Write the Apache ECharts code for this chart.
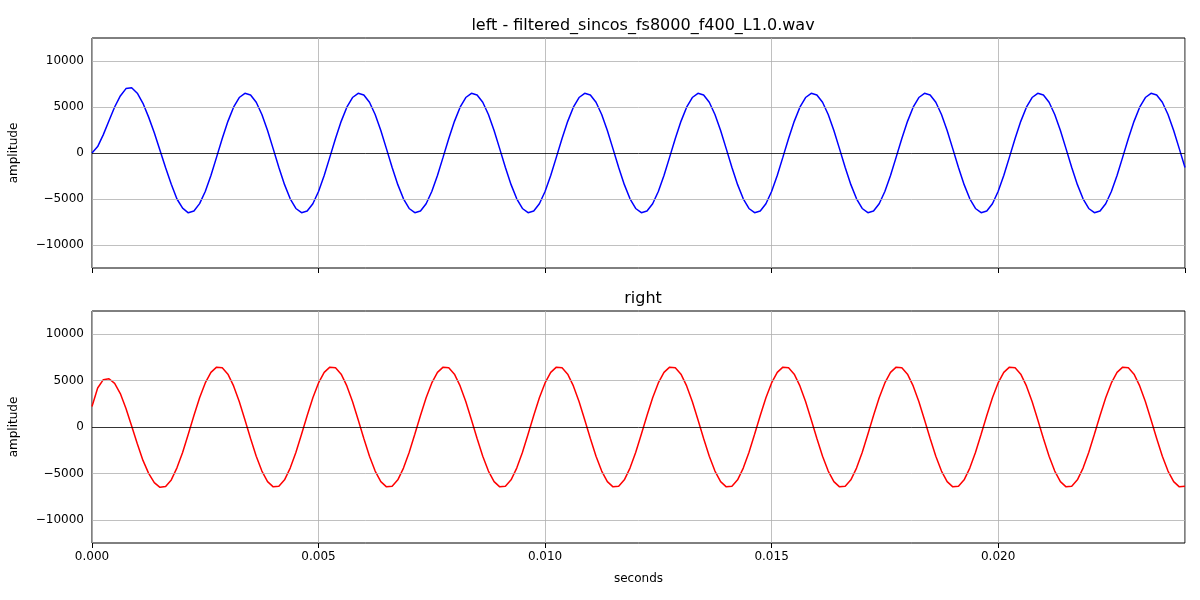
<!DOCTYPE html>
<html><head><meta charset="utf-8">
<script src="https://cdn.jsdelivr.net/npm/echarts@6/dist/echarts.min.js"></script>
<style>html,body{margin:0;background:#fff}#c{width:1200px;height:600px}</style>
</head><body><div id="c"></div>
<script>
const sampleRate = 8000;
const leftValues = [
0,700,2000,3500,5000,6200,7000,7100,6500,5400,3900,2200,300,-1600,-3400,-5000,-6000,-6500,-6300,-5500,
-4180,-2440,-450,1570,3440,4980,6030,6490,6310,5510,4180,2440,450,-1570,-3440,-4980,-6030,-6490,-6310,-5510,
-4180,-2440,-450,1570,3440,4980,6030,6490,6310,5510,4180,2440,450,-1570,-3440,-4980,-6030,-6490,-6310,-5510,
-4180,-2440,-450,1570,3440,4980,6030,6490,6310,5510,4180,2440,450,-1570,-3440,-4980,-6030,-6490,-6310,-5510,
-4180,-2440,-450,1570,3440,4980,6030,6490,6310,5510,4180,2440,450,-1570,-3440,-4980,-6030,-6490,-6310,-5510,
-4180,-2440,-450,1570,3440,4980,6030,6490,6310,5510,4180,2440,450,-1570,-3440,-4980,-6030,-6490,-6310,-5510,
-4180,-2440,-450,1570,3440,4980,6030,6490,6310,5510,4180,2440,450,-1570,-3440,-4980,-6030,-6490,-6310,-5510,
-4180,-2440,-450,1570,3440,4980,6030,6490,6310,5510,4180,2440,450,-1570,-3440,-4980,-6030,-6490,-6310,-5510,
-4180,-2440,-450,1570,3440,4980,6030,6490,6310,5510,4180,2440,450,-1570,-3440,-4980,-6030,-6490,-6310,-5510,
-4180,-2440,-450,1570,3440,4980,6030,6490,6310,5510,4180,2440,450,-1570
];
const rightValues = [
2200,4200,5100,5200,4700,3600,2000,100,-1800,-3600,-5000,-6000,-6500,-6400,-5700,-4400,-2750,-790,1240,3150,
4750,5890,6450,6380,5690,4430,2750,790,-1240,-3150,-4750,-5890,-6450,-6380,-5690,-4430,-2750,-790,1240,3150,
4750,5890,6450,6380,5690,4430,2750,790,-1240,-3150,-4750,-5890,-6450,-6380,-5690,-4430,-2750,-790,1240,3150,
4750,5890,6450,6380,5690,4430,2750,790,-1240,-3150,-4750,-5890,-6450,-6380,-5690,-4430,-2750,-790,1240,3150,
4750,5890,6450,6380,5690,4430,2750,790,-1240,-3150,-4750,-5890,-6450,-6380,-5690,-4430,-2750,-790,1240,3150,
4750,5890,6450,6380,5690,4430,2750,790,-1240,-3150,-4750,-5890,-6450,-6380,-5690,-4430,-2750,-790,1240,3150,
4750,5890,6450,6380,5690,4430,2750,790,-1240,-3150,-4750,-5890,-6450,-6380,-5690,-4430,-2750,-790,1240,3150,
4750,5890,6450,6380,5690,4430,2750,790,-1240,-3150,-4750,-5890,-6450,-6380,-5690,-4430,-2750,-790,1240,3150,
4750,5890,6450,6380,5690,4430,2750,790,-1240,-3150,-4750,-5890,-6450,-6380,-5690,-4430,-2750,-790,1240,3150,
4750,5890,6450,6380,5690,4430,2750,790,-1240,-3150,-4750,-5890,-6450,-6380
];
const yTicks = [-10000,-5000,0,5000,10000];
const xMax = 0.024125;

const pts = v => v.map((y,i)=>[i/sampleRate,y]);
const font = 'DejaVu Sans';
const gridLines = {
  silent:true, symbol:'none', label:{show:false}, animation:false,
  data:yTicks.map(v=>({yAxis:v, lineStyle:{color:v===0?'#000':'#b0b0b0',width:0.8,type:'solid'}}))
};
function xa(idx, showLabel){
  return {type:'value', gridIndex:idx, min:0, max:xMax, interval:0.005,
    axisLine:{show:false, onZero:false},
    splitLine:{show:true, lineStyle:{color:'#b0b0b0', width:0.8}},
    axisTick:{show:true, inside:false, length:5, lineStyle:{color:'#000'}},
    axisLabel:{show:showLabel, color:'#000', fontSize:12, fontFamily:font, showMaxLabel:false,
      formatter:v=>v.toFixed(3)},
    name: showLabel?'seconds':'', nameLocation:'middle', nameGap:30,
    nameTextStyle:{color:'#000',fontSize:12,fontFamily:font}};
}
function ya(idx){
  return {type:'value', gridIndex:idx, min:-12500, max:12500, interval:2500,
    axisLine:{show:false, onZero:false}, splitLine:{show:false}, axisTick:{show:false},
    axisLabel:{color:'#000', fontSize:12, fontFamily:font,
      formatter:v=>(v%5000===0)?String(v).replace('-','\u2212'):''},
    name:'amplitude', nameLocation:'middle', nameGap:72,
    nameTextStyle:{color:'#000',fontSize:12,fontFamily:font}};
}
const chart = echarts.init(document.getElementById('c'));
chart.setOption({
  animation:false,
  title:[
    {text:'left - filtered_sincos_fs8000_f400_L1.0.wav', left:638, top:13, textAlign:'center',
     textStyle:{fontSize:16,fontWeight:'normal',color:'#000',fontFamily:font}},
    {text:'right', left:638, top:286, textAlign:'center',
     textStyle:{fontSize:16,fontWeight:'normal',color:'#000',fontFamily:font}}
  ],
  grid:[
    {left:91, right:15, top:38, height:230, show:true, borderColor:'#000', borderWidth:1},
    {left:91, right:15, top:311, height:232, show:true, borderColor:'#000', borderWidth:1}
  ],
  xAxis:[xa(0,false), xa(1,true)],
  yAxis:[ya(0), ya(1)],
  series:[
    {type:'line', xAxisIndex:0, yAxisIndex:0, data:pts(leftValues), showSymbol:false,
     lineStyle:{color:'#0000ff',width:1.5}, markLine:gridLines, z:3},
    {type:'line', xAxisIndex:1, yAxisIndex:1, data:pts(rightValues), showSymbol:false,
     lineStyle:{color:'#ff0000',width:1.5}, markLine:gridLines, z:3}
  ]
});
</script></body></html>
